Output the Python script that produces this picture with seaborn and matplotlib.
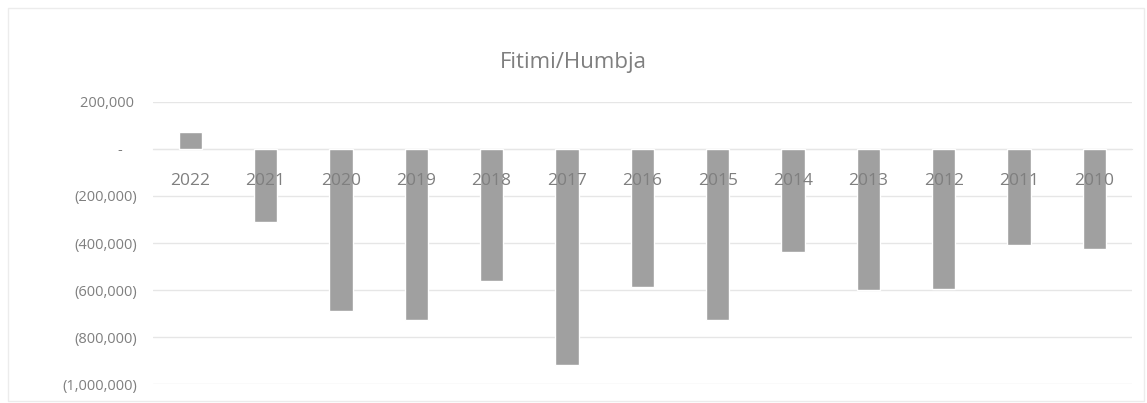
import matplotlib.pyplot as plt
import seaborn as sns
import pandas as pd
from matplotlib.ticker import FuncFormatter
from matplotlib.patches import Rectangle

# Profit / loss per year
years = ['2022', '2021', '2020', '2019', '2018', '2017', '2016',
         '2015', '2014', '2013', '2012', '2011', '2010']
profit_loss = [72000, -310000, -689000, -728000, -562000, -919000, -587000,
               -726000, -438000, -600000, -596000, -409000, -426000]
y_ticks = [200000, 0, -200000, -400000, -600000, -800000, -1000000]

df = pd.DataFrame({'Viti': years, 'Fitimi/Humbja': profit_loss})

sns.set_style('white')
plt.rcParams['font.family'] = ['Open Sans', 'DejaVu Sans']
text_color = '#7f7f7f'

fig = plt.figure(figsize=(11.47, 4.03), dpi=100)
ax = fig.add_axes([0.133, 0.047, 0.854, 0.70])

sns.barplot(data=df, x='Viti', y='Fitimi/Humbja', color='#a0a0a0',
            width=0.31, saturation=1, ax=ax, zorder=2)

def accounting(v, pos):
    if v == 0:
        return '-    '
    if v < 0:
        return f'({abs(v):,.0f})'
    return f'{v:,.0f} '

ax.set_ylim(-1000000, 200000)
ax.set_yticks(y_ticks)
ax.yaxis.set_major_formatter(FuncFormatter(accounting))
ax.grid(axis='y', color='#e6e6e6', linewidth=1)
ax.set_axisbelow(True)
# year labels sit on top of the bars, like in the original
ax.xaxis.set_zorder(3)

for side in ['top', 'right', 'left']:
    ax.spines[side].set_visible(False)
ax.spines['bottom'].set_position(('data', 0))
ax.spines['bottom'].set_color('#e6e6e6')
ax.spines['bottom'].set_zorder(0.6)
ax.tick_params(axis='x', length=0, pad=17, labelsize=12.5, labelcolor=text_color)
ax.tick_params(axis='y', length=0, pad=11, labelsize=10.5, labelcolor=text_color)
ax.set_xlabel('')
ax.set_ylabel('')

fig.suptitle('Fitimi/Humbja', y=0.87, fontsize=16, color=text_color)

# light frame around the chart area
fig.patches.append(Rectangle((0.007, 0.005), 0.99, 0.975, transform=fig.transFigure,
                             fill=False, edgecolor='#ececec', linewidth=1))

fig.savefig('out.png', dpi=100)
